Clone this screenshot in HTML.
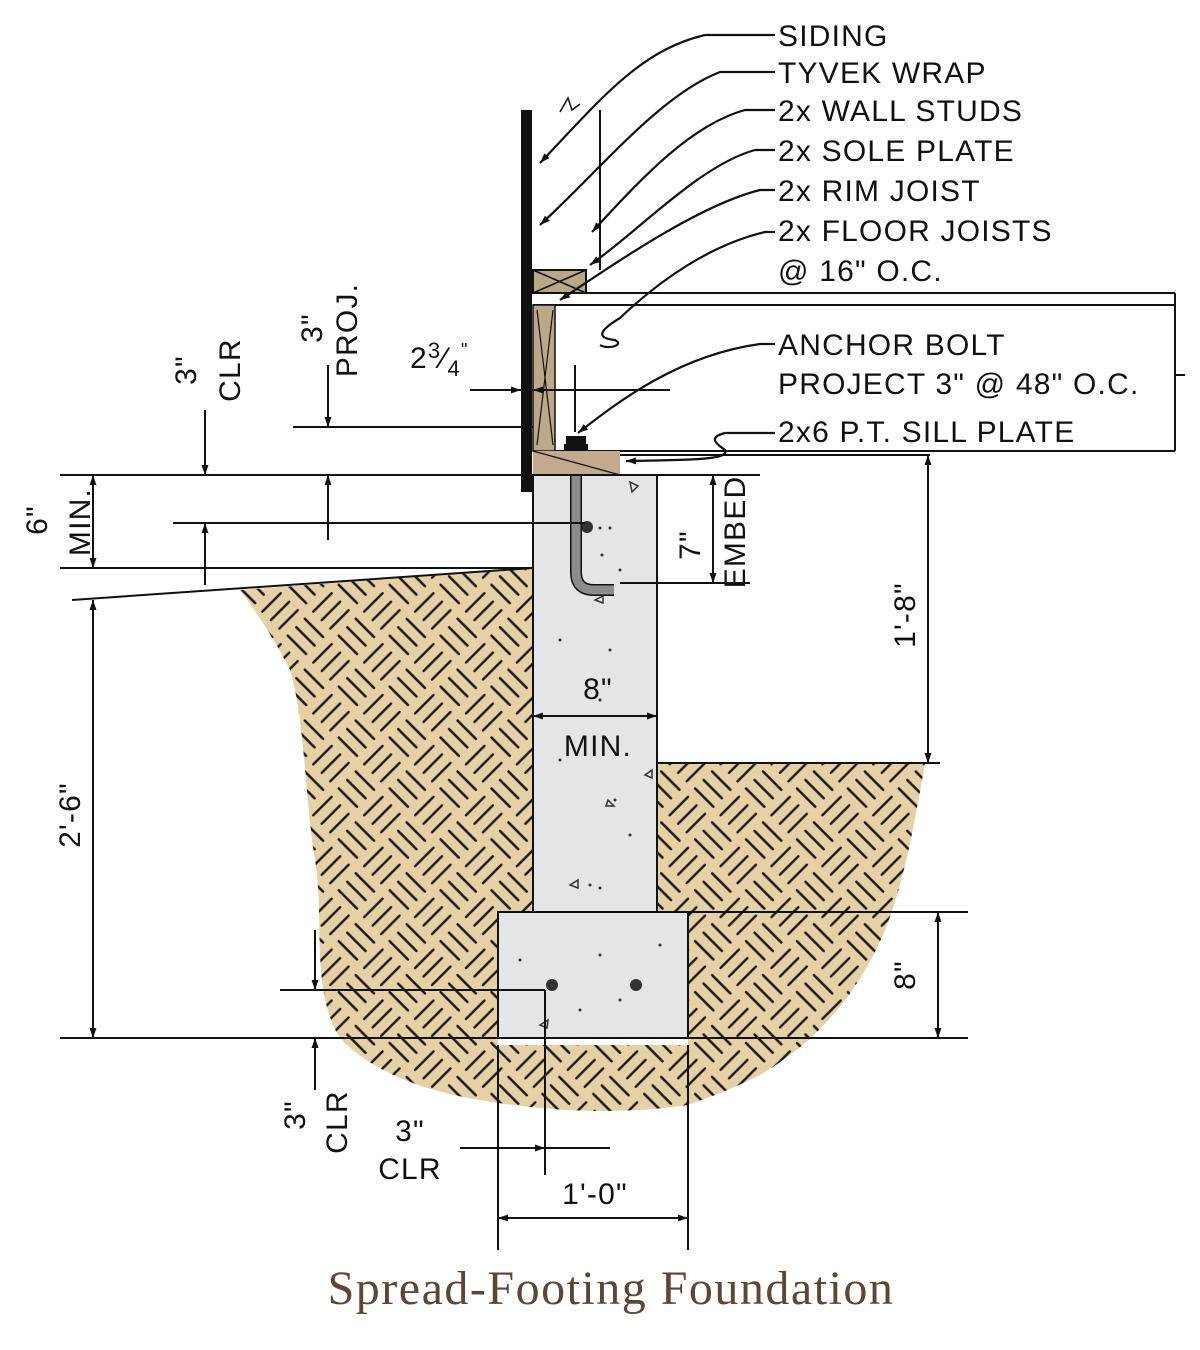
<!DOCTYPE html>
<html><head><meta charset="utf-8"><style>
html,body{margin:0;padding:0;background:#fff;}
svg{display:block;}
text{font-family:"Liberation Sans",sans-serif;fill:#111;}
</style></head><body>
<svg width="1200" height="1350" viewBox="0 0 1200 1350" xmlns="http://www.w3.org/2000/svg">
<defs>
<pattern id="soil" width="72" height="72" patternUnits="userSpaceOnUse" patternTransform="rotate(45)">
<rect width="72" height="72" fill="#e6d0a6"/>
<g stroke="#1a1a1a" stroke-width="2.4" stroke-linecap="round">
<line x1="5" y1="6" x2="31" y2="6"/><line x1="5" y1="18" x2="31" y2="18"/><line x1="5" y1="30" x2="31" y2="30"/>
<line x1="42" y1="5" x2="42" y2="31"/><line x1="54" y1="5" x2="54" y2="31"/><line x1="66" y1="5" x2="66" y2="31"/>
<line x1="6" y1="41" x2="6" y2="67"/><line x1="18" y1="41" x2="18" y2="67"/><line x1="30" y1="41" x2="30" y2="67"/>
<line x1="41" y1="42" x2="67" y2="42"/><line x1="41" y1="54" x2="67" y2="54"/><line x1="41" y1="66" x2="67" y2="66"/>
</g></pattern>
<marker id="ar" viewBox="0 0 10 10" refX="10" refY="5" markerWidth="14" markerHeight="10" orient="auto-start-reverse" markerUnits="userSpaceOnUse">
<path d="M0,1.5 L10,5 L0,8.5 Z" fill="#111"/></marker>
</defs>

<!-- soil -->
<path d="M240,590 L533,568 L533,912 L498,912 L498,1038 L340,1038 C310,990 325,920 315,860 C305,800 305,720 290,670 C275,640 255,610 240,590 Z" fill="url(#soil)"/>
<path d="M657,763 L925,763 C915,820 905,880 885,930 C860,990 820,1040 760,1075 C720,1095 700,1100 688,1105 L688,912 L657,912 Z" fill="url(#soil)"/>
<path d="M340,1038 L498,1038 L498,1045 L688,1045 L688,1105 C620,1115 550,1112 480,1100 C420,1090 370,1070 340,1038 Z" fill="url(#soil)"/>

<!-- concrete -->
<rect x="533" y="475" width="124" height="437" fill="#e3e5e7" stroke="#111" stroke-width="2"/>
<rect x="498" y="912" width="190" height="126" fill="#e3e5e7" stroke="#111" stroke-width="2"/>
<g fill="#333">
<circle cx="600" cy="528" r="1.5"/><circle cx="610" cy="528" r="1.5"/><circle cx="602" cy="555" r="1.5"/><circle cx="620" cy="570" r="1.5"/>
<circle cx="610" cy="650" r="1.5"/><circle cx="560" cy="640" r="1.5"/><circle cx="600" cy="700" r="1.5"/><circle cx="615" cy="800" r="1.5"/>
<circle cx="590" cy="885" r="1.5"/><circle cx="600" cy="888" r="1.5"/><circle cx="560" cy="760" r="1.5"/><circle cx="630" cy="835" r="1.5"/>
<circle cx="600" cy="955" r="1.5"/><circle cx="620" cy="1000" r="1.5"/><circle cx="580" cy="1010" r="1.5"/><circle cx="660" cy="945" r="1.5"/><circle cx="520" cy="960" r="1.5"/>
<circle cx="587" cy="527" r="6"/><circle cx="552" cy="985" r="6"/><circle cx="636" cy="985" r="6"/>
</g>
<g fill="none" stroke="#333" stroke-width="1.5">
<path d="M630,482 L638,486 L632,492 Z"/><path d="M608,800 L614,806 L606,806 Z"/><path d="M570,885 L578,880 L578,888 Z"/><path d="M595,600 L603,596 L603,603 Z"/><path d="M540,1025 L548,1020 L547,1028 Z"/><path d="M645,775 L652,770 L652,778 Z"/>
</g>
<!-- anchor bolt -->
<path d="M576,476 L576,572 Q576,590 594,590 L614,590" fill="none" stroke="#111" stroke-width="12"/>
<path d="M576,476 L576,572 Q576,590 594,590 L614,590" fill="none" stroke="#8a8c8e" stroke-width="9"/>
<rect x="566" y="436" width="20" height="10" fill="#111"/><rect x="564" y="444" width="24" height="7" fill="#111"/>

<!-- framing -->
<rect x="533" y="110" width="67" height="160" fill="#fff"/>
<line x1="600" y1="110" x2="600" y2="270" stroke="#111" stroke-width="2"/>
<rect x="533" y="270" width="53" height="23" fill="#b9a888" stroke="#111" stroke-width="2"/>
<path d="M533,270 L586,293 M586,270 L533,293" stroke="#111" stroke-width="1.5"/>
<line x1="533" y1="293" x2="1175" y2="293" stroke="#111" stroke-width="2"/>
<line x1="533" y1="305" x2="1175" y2="305" stroke="#111" stroke-width="2"/>
<rect x="533" y="305" width="22" height="146" fill="#bca789" stroke="#111" stroke-width="1.5"/>
<path d="M537,310 L553,445 M553,310 L537,445" stroke="#111" stroke-width="1.2"/>
<line x1="555" y1="451" x2="1175" y2="451" stroke="#111" stroke-width="2"/>
<line x1="1175" y1="293" x2="1175" y2="451" stroke="#111" stroke-width="2"/>
<rect x="533" y="451" width="87" height="24" fill="#c3a98e"/>
<line x1="533" y1="451" x2="620" y2="475" stroke="#111" stroke-width="1.2"/>
<line x1="533" y1="475" x2="657" y2="475" stroke="#111" stroke-width="2"/>
<rect x="521" y="110" width="11" height="382" fill="#111"/>
<path d="M560,112 L568,98 L572,110 L580,104" fill="none" stroke="#111" stroke-width="1.5"/>
<line x1="1175" y1="375" x2="1185" y2="375" stroke="#111" stroke-width="2"/>

<!-- leaders -->
<g fill="none" stroke="#111" stroke-width="2.2">
<path d="M775,35 L705,35 C640,50 600,100 540,163" marker-end="url(#ar)"/>
<path d="M775,72 L720,72 C660,95 600,170 540,225" marker-end="url(#ar)"/>
<path d="M775,110 L745,110 C690,125 640,180 592,232" marker-end="url(#ar)"/>
<path d="M775,150 L755,150 C700,165 640,230 590,265" marker-end="url(#ar)"/>
<path d="M775,190 L760,190 C700,205 620,260 560,300" marker-end="url(#ar)"/>
<path d="M775,232 L765,232 C710,245 660,280 620,318 C600,330 595,338 615,340 C625,345 608,350 600,345"/>
<path d="M775,344 L760,344 C680,355 620,400 578,433" marker-end="url(#ar)"/>
<path d="M775,433 L725,433 C705,438 720,446 725,450 C730,460 690,460 626,461" marker-end="url(#ar)"/>
</g>

<!-- dimension lines -->
<g stroke="#111" stroke-width="2" fill="none">
<line x1="60" y1="475" x2="533" y2="475"/>
<line x1="173" y1="523" x2="585" y2="523"/>
<line x1="60" y1="568" x2="533" y2="568"/>
<line x1="72" y1="600" x2="533" y2="568"/>
<line x1="293" y1="427" x2="533" y2="427"/>
<line x1="470" y1="390" x2="670" y2="390"/>
<line x1="575" y1="365" x2="575" y2="432"/>
<line x1="60" y1="1038" x2="968" y2="1038"/>
<line x1="688" y1="912" x2="968" y2="912"/>
<line x1="280" y1="990" x2="545" y2="990"/>
<line x1="620" y1="583" x2="750" y2="583"/>
<line x1="657" y1="475" x2="760" y2="475"/>
<line x1="657" y1="763" x2="940" y2="763"/>
<line x1="620" y1="455" x2="930" y2="455"/>
<line x1="498" y1="1045" x2="498" y2="1250"/>
<line x1="688" y1="1045" x2="688" y2="1250"/>
<line x1="545" y1="990" x2="545" y2="1175"/>
<line x1="93" y1="475" x2="93" y2="568" marker-start="url(#ar)" marker-end="url(#ar)"/>
<line x1="93" y1="600" x2="93" y2="1038" marker-start="url(#ar)" marker-end="url(#ar)"/>
<line x1="205" y1="410" x2="205" y2="475" marker-end="url(#ar)"/>
<line x1="205" y1="585" x2="205" y2="523" marker-end="url(#ar)"/>
<line x1="328" y1="365" x2="328" y2="427" marker-end="url(#ar)"/>
<line x1="328" y1="540" x2="328" y2="475" marker-end="url(#ar)"/>
<line x1="470" y1="390" x2="521" y2="390" marker-end="url(#ar)"/>
<line x1="670" y1="390" x2="533" y2="390" marker-end="url(#ar)"/>
<line x1="713" y1="475" x2="713" y2="583" marker-start="url(#ar)" marker-end="url(#ar)"/>
<line x1="928" y1="455" x2="928" y2="763" marker-start="url(#ar)" marker-end="url(#ar)"/>
<line x1="938" y1="912" x2="938" y2="1038" marker-start="url(#ar)" marker-end="url(#ar)"/>
<line x1="315" y1="930" x2="315" y2="990" marker-end="url(#ar)"/>
<line x1="315" y1="1090" x2="315" y2="1038" marker-end="url(#ar)"/>
<line x1="533" y1="716" x2="657" y2="716" marker-start="url(#ar)" marker-end="url(#ar)"/>
<line x1="460" y1="1148" x2="545" y2="1148" marker-end="url(#ar)"/>
<line x1="545" y1="1148" x2="610" y2="1148"/>
<line x1="498" y1="1218" x2="688" y2="1218" marker-start="url(#ar)" marker-end="url(#ar)"/>
</g>

<!-- labels -->
<g font-size="30" letter-spacing="1.2">
<text x="778" y="46">SIDING</text>
<text x="778" y="83">TYVEK  WRAP</text>
<text x="778" y="121">2x WALL STUDS</text>
<text x="778" y="161">2x SOLE PLATE</text>
<text x="778" y="201">2x RIM JOIST</text>
<text x="778" y="241">2x FLOOR JOISTS</text>
<text x="778" y="281">@ 16" O.C.</text>
<text x="778" y="355">ANCHOR BOLT</text>
<text x="778" y="394">PROJECT 3" @ 48" O.C.</text>
<text x="778" y="442">2x6 P.T. SILL PLATE</text>
<text x="598" y="699" text-anchor="middle">8"</text>
<text x="598" y="756" text-anchor="middle">MIN.</text>
<text x="595" y="1204" text-anchor="middle">1'-0"</text>
<text x="410" y="1141" text-anchor="middle">3"</text>
<text x="410" y="1179" text-anchor="middle">CLR</text>
<text x="410" y="368">2<tspan font-size="22" dy="-10">3</tspan><tspan dy="10">⁄</tspan><tspan font-size="22" dy="8">4</tspan><tspan font-size="18" dy="-20">"</tspan></text>
<text transform="translate(47,520) rotate(-90)" text-anchor="middle">6"</text>
<text transform="translate(90,522) rotate(-90)" text-anchor="middle">MIN.</text>
<text transform="translate(196,370) rotate(-90)" text-anchor="middle">3"</text>
<text transform="translate(240,370) rotate(-90)" text-anchor="middle">CLR</text>
<text transform="translate(322,328) rotate(-90)" text-anchor="middle">3"</text>
<text transform="translate(357,330) rotate(-90)" text-anchor="middle">PROJ.</text>
<text transform="translate(80,815) rotate(-90)" text-anchor="middle">2'-6"</text>
<text transform="translate(915,615) rotate(-90)" text-anchor="middle">1'-8"</text>
<text transform="translate(915,975) rotate(-90)" text-anchor="middle">8"</text>
<text transform="translate(700,545) rotate(-90)" text-anchor="middle">7"</text>
<text transform="translate(745,532) rotate(-90)" text-anchor="middle">EMBED</text>
<text transform="translate(305,1115) rotate(-90)" text-anchor="middle">3"</text>
<text transform="translate(347,1122) rotate(-90)" text-anchor="middle">CLR</text>
</g>
<text x="611" y="1304" text-anchor="middle" font-size="48" letter-spacing="1.5" style="font-family:'Liberation Serif',serif;fill:#5e4637">Spread-Footing Foundation</text>
</svg>
</body></html>
